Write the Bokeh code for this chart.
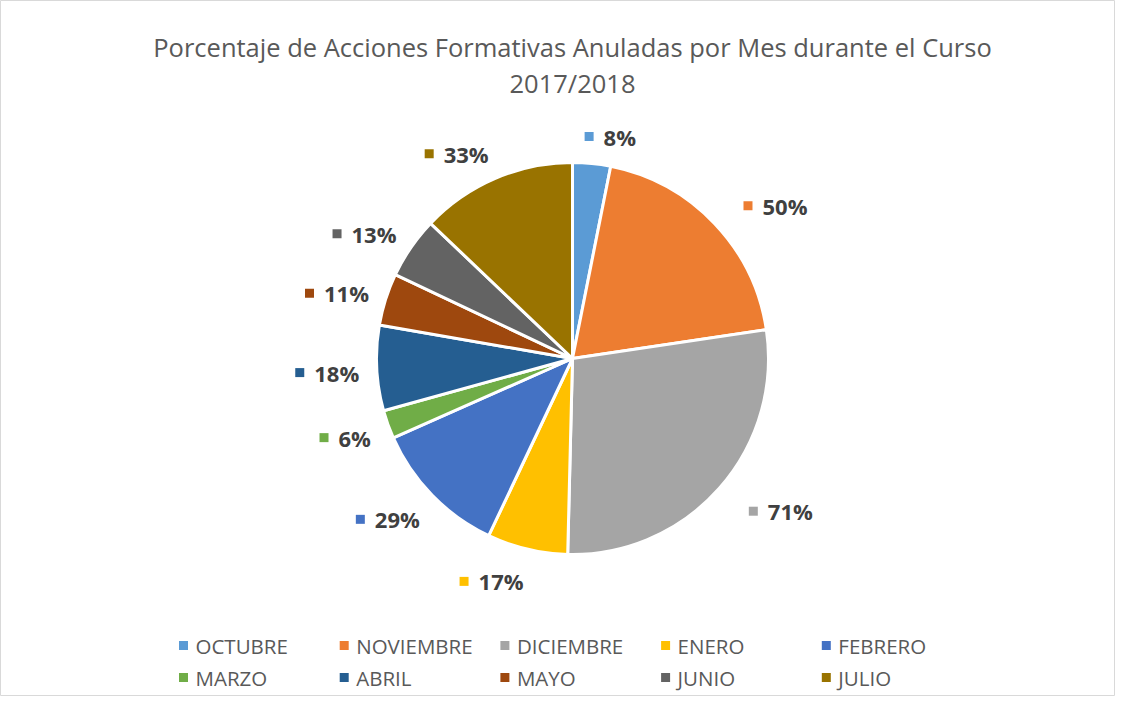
import math
from bokeh.plotting import figure
from bokeh.models import Range1d, ColumnDataSource
from bokeh.embed import file_html
from bokeh.resources import INLINE
from bokeh.core.properties import value

# ---- data ----
months = ["OCTUBRE", "NOVIEMBRE", "DICIEMBRE", "ENERO", "FEBRERO",
          "MARZO", "ABRIL", "MAYO", "JUNIO", "JULIO"]
percent = [8, 50, 71, 17, 29, 6, 18, 11, 13, 33]
colors = ["#5B9BD5", "#ED7D31", "#A5A5A5", "#FFC000", "#4472C4",
          "#70AD47", "#255E91", "#9E480E", "#636363", "#997300"]
title_lines = ["Porcentaje de Acciones Formativas Anuladas por Mes durante el Curso",
               "2017/2018"]

W, H = 1115, 696
FONT = "Open Sans"


def X(sx):
    return sx


def Y(sy):
    return H - sy


p = figure(width=W, height=H, x_range=Range1d(0, W), y_range=Range1d(0, H),
           output_backend="svg", toolbar_location=None, min_border=0,
           x_axis_location=None, y_axis_location=None)
p.grid.visible = False
p.outline_line_color = "#D9D9D9"
p.outline_line_width = 1
p.background_fill_color = "white"
p.border_fill_color = "white"

# ---- pie ----
CX, CY, R = 572, 358, 196
total = sum(percent)
starts, ends, mids = [], [], []
c = 0.0
for v in percent:
    f0 = c / total
    c += v
    f1 = c / total
    starts.append(math.pi / 2 - 2 * math.pi * f0)
    ends.append(math.pi / 2 - 2 * math.pi * f1)
    mids.append(2 * math.pi * (f0 + f1) / 2)  # clockwise from top

src = ColumnDataSource(dict(x=[X(CX)] * len(percent), y=[Y(CY)] * len(percent),
                            start=starts, end=ends, color=colors))
p.wedge(x="x", y="y", radius=R, start_angle="start", end_angle="end",
        direction="clock", fill_color="color", line_color="white",
        line_width=3, source=src)

# ---- data labels ----
labels = [f"{v}%" for v in percent]
LR = 214
mx, my, tx, ty = [], [], [], []
for th, lab in zip(mids, labels):
    s, co = math.sin(th), math.cos(th)
    px = CX + LR * s
    py = CY - LR * co
    tw = 12 * (len(lab) - 1) + 19
    a = (20 + tw + 4.5) / 2
    sx = max(-1.0, min(1.0, s * 5))
    gx = px + (a + 6) * sx + 15 * abs(sx)
    gy = py - 12 * co + 3
    left = gx - a - 5
    mx.append(X(left + 4.5))
    my.append(Y(gy))
    tx.append(X(left + 19))
    ty.append(Y(gy))

p.scatter(x=mx, y=my, marker="square", size=9, fill_color=colors, line_color=None)
p.text(x=tx, y=ty, text=labels, text_font=value(FONT), text_font_size="22px",
       text_font_style="bold", text_color="#404040", text_align="left",
       text_baseline="middle")

# ---- title ----
p.text(x=[X(572), X(572)], y=[Y(46), Y(82)], text=title_lines,
       text_font=value(FONT), text_font_size="25.5px", text_color="#595959",
       text_align="center", text_baseline="middle")

# ---- legend ----
lmx, lmy, ltx, lty = [], [], [], []
for i, m in enumerate(months):
    col = i % 5
    row = i // 5
    sxm = 183 + 160.7 * col
    sym = 645 + 32 * row
    lmx.append(X(sxm))
    lmy.append(Y(sym))
    ltx.append(X(sxm + 12))
    lty.append(Y(sym))
p.scatter(x=lmx, y=lmy, marker="square", size=9, fill_color=colors, line_color=None)
p.text(x=ltx, y=lty, text=months, text_font=value(FONT), text_font_size="20.5px",
       text_color="#595959", text_align="left", text_baseline="middle")

open("out.html", "w").write(file_html(p, INLINE))
